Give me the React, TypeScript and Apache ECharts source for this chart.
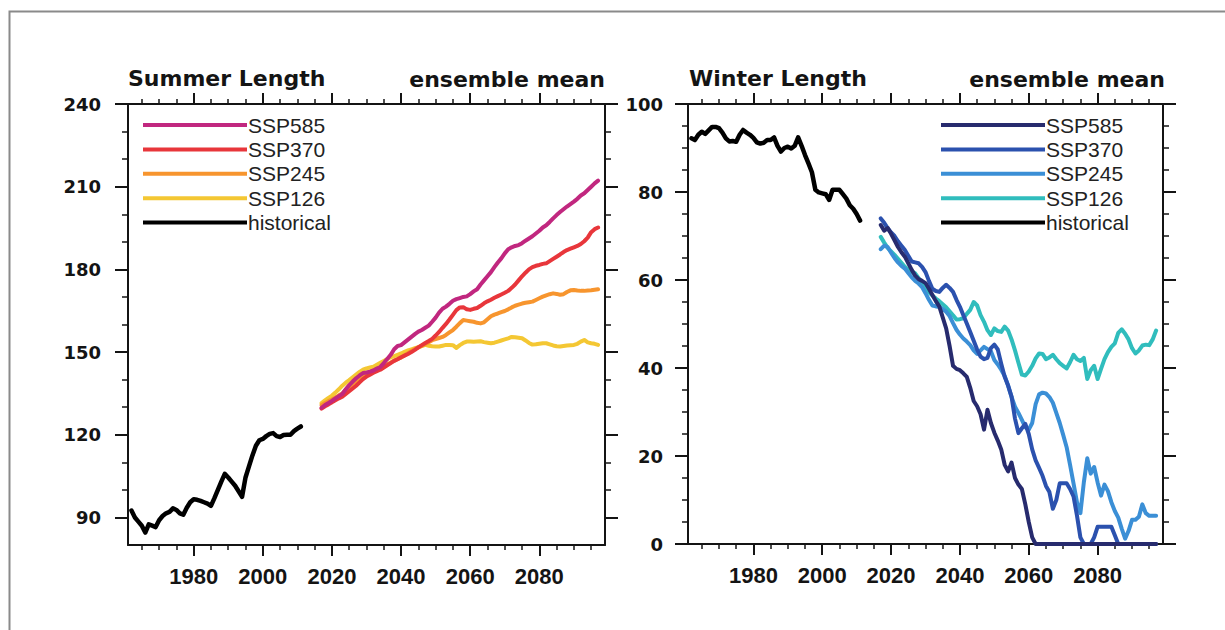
import React, { useEffect, useRef } from "react";
import * as echarts from "echarts";

// ---------- DATA ----------
const range = (a: number, b: number) => { const r: number[] = []; for (let y = a; y <= b; y++) r.push(y); return r; };
const histYears = range(1962, 2011);
const futureYears = range(2017, 2097);

const xMajorTicks = [1980, 2000, 2020, 2040, 2060, 2080];
const xMinorTicks = [1965, 1970, 1975, 1985, 1990, 1995, 2005, 2010, 2015, 2025, 2030, 2035, 2045, 2050, 2055, 2065, 2070, 2075, 2085, 2090, 2095];
const summerMajorTicks = [90, 120, 150, 180, 210, 240];
const summerMinorTicks = [100, 110, 130, 140, 160, 170, 190, 200, 220, 230];
const winterMajorTicks = [0, 20, 40, 60, 80, 100];
const winterMinorTicks = [5, 10, 15, 25, 30, 35, 45, 50, 55, 65, 70, 75, 85, 90, 95];

const scenarios = ["SSP585", "SSP370", "SSP245", "SSP126"];
const summerColors = ["#c1277f", "#e8363b", "#f7952e", "#f4c733"];
const winterColors = ["#272b6e", "#2b51ae", "#3b8fd6", "#30bdbd"];

const summerHist = [
  92.5, 90, 88.5, 87, 84.5, 87.5, 87, 86.5, 89, 90.5,
  91.5, 92, 93.3, 92.7, 91.5, 91, 93.5, 95.5, 96.6, 96.4,
  96, 95.5, 95, 94.2, 97, 100, 103, 105.8, 104.5, 103,
  101.5, 99.5, 97.5, 104.5, 108.5, 112.5, 116, 118, 118.5, 119.5,
  120.3, 120.6, 119.5, 119.2, 119.9, 120, 120, 121.3, 122.2, 123,
];
const summer585 = [
  129.8, 130.8, 131.5, 132.3, 133.2, 134, 134.8, 136.5, 138, 139.3,
  140.5, 141.5, 142.4, 142.6, 142.9, 143.3, 144, 144.6, 146, 147.5,
  149, 151, 152.2, 152.5, 153.5, 154.5, 155.5, 156.5, 157.4, 158,
  158.8, 159.6, 161, 162.5, 164.3, 165.7, 166.5, 167.5, 168.6, 169.2,
  169.6, 170, 170.2, 171, 172, 172.8, 174.5, 176, 177.5, 179,
  180.8, 182.5, 184, 185.8, 187.3, 188, 188.5, 188.8, 189.5, 190.4,
  191.2, 192, 193, 194, 195.2, 196, 197.2, 198.5, 199.7, 200.8,
  201.8, 202.8, 203.7, 204.6, 205.6, 206.8, 207.6, 208.8, 210, 211.2,
  212.2,
];
const summer370 = [
  129.5, 130.3, 131, 131.8, 132.5, 133.2, 133.8, 134.8, 135.8, 136.8,
  137.8, 139, 140.2, 141.1, 141.8, 142.5, 143.1, 143.6, 144.4, 145.2,
  146, 146.8, 147.4, 148.1, 148.7, 149.3, 150, 150.8, 151.7, 152.5,
  153.3, 154, 154.8, 156, 157.3, 158.8, 160.2, 161.8, 163.5, 165.2,
  166.2, 166.3, 165.5, 165.3, 165.7, 166, 166.8, 167.7, 168.4, 169,
  169.7, 170.3, 170.9, 171.5, 172.2, 173.3, 174.5, 176, 177.5, 178.8,
  180, 180.8, 181.3, 181.6, 182, 182.2, 183, 183.8, 184.6, 185.4,
  186.3, 187, 187.5, 188, 188.5, 189.2, 190.2, 191.5, 193.5, 194.6,
  195.2,
];
const summer245 = [
  130.7, 131.5, 132.2, 132.8, 133.5, 134.3, 135, 136.2, 137.3, 138.4,
  139.5, 140.6, 141.5, 142.3, 142.8, 143.4, 143.9, 144.4, 144.9, 145.6,
  146.2, 146.9, 147.5, 148, 148.8, 149.6, 150.4, 151.1, 151.7, 152.3,
  152.9, 153.6, 154.3, 154.7, 155.1, 155.5, 156.2, 157.1, 158, 159.2,
  160.5, 161.6, 161.4, 161.2, 161, 160.6, 160.4, 160.8, 161.9, 163,
  163.6, 164, 164.5, 164.9, 165.5, 166.2, 166.8, 167.2, 167.6, 167.9,
  168.1, 168.3, 168.9, 169.5, 170.1, 170.6, 171, 171.3, 171.1, 170.8,
  171, 171.8, 172.4, 172.5, 172.3, 172.2, 172.2, 172.3, 172.4, 172.6,
  172.8,
];
const summer126 = [
  131.5, 132.5, 133.4, 134.2, 135.3, 136.5, 137.8, 138.9, 139.8, 140.8,
  141.8, 142.8, 143.6, 144.1, 144.4, 144.7, 145.4, 146.1, 146.8, 147.5,
  148.1, 148.5, 149, 149.5, 150.1, 150.6, 151, 151.4, 151.8, 152.2,
  152.6, 152.3, 152.1, 152, 152, 152.3, 152.6, 152.6, 152.5, 151.5,
  152.5, 153.3, 153.8, 153.8, 153.7, 153.8, 153.9, 153.6, 153.4, 153.2,
  153.4, 153.8, 154.2, 154.6, 155, 155.5, 155.4, 155.2, 155, 154.2,
  153.3, 152.7, 152.8, 153, 153.2, 153.2, 152.8, 152.4, 152.1, 152,
  152.2, 152.4, 152.5, 152.6, 153, 153.8, 154.4, 153.5, 153.2, 153,
  152.6,
];

const winterHist = [
  92.2, 91.8, 93, 93.7, 93.2, 94, 94.8, 94.8, 94.5, 93.5,
  92.2, 91.5, 91.6, 91.4, 93, 94.1, 93.5, 93, 92.3, 91.3,
  91, 91.2, 91.8, 91.8, 92.4, 90.5, 89.2, 90, 90.3, 89.9,
  90.5, 92.4, 90.5, 88.4, 86.5, 84.5, 80.5, 79.9, 79.7, 79.5,
  78.2, 80.5, 80.5, 80.5, 79.5, 78.5, 77, 76.2, 75, 73.5,
];
const winter585 = [
  72.5, 71.2, 71.8, 70.5, 69, 67.5, 66.3, 65.3, 63.8, 62.3,
  61, 60.2, 59.8, 59.3, 58, 56.6, 55.2, 54, 51.5, 49,
  45, 40.5, 39.8, 39.5, 38.8, 38, 35.5, 32.5, 31.3, 29.5,
  26, 30.5, 27.5, 25.3, 23.5, 21.5, 18, 16.5, 18.5, 15,
  13.5, 12.5, 9, 5, 1.5, 0, 0, 0, 0, 0,
  0, 0, 0, 0, 0, 0, 0, 0, 0, 0,
  0, 0, 0, 0, 0, 0, 0, 0, 0, 0,
  0, 0, 0, 0, 0, 0, 0, 0, 0, 0,
  0,
];
const winter370 = [
  74, 73, 71.8, 70.8, 70, 68.8, 67.8, 66.8, 65.5, 64.2,
  64, 63.8, 63, 61.8, 59.8, 58, 57.5, 57.3, 58.2, 58.9,
  58.2, 57.3, 55.5, 53.9, 52, 50.1, 48.2, 46.2, 44.2, 42.6,
  42, 42.3, 44.5, 45.3, 44.2, 41, 38, 36, 33.5, 28.5,
  25.2, 26.3, 27.3, 25, 21.5, 19, 17.3, 15.5, 13.2, 11.8,
  8, 10, 13.8, 13.8, 13.8, 12.5, 10.8, 6.5, 1.5, 0,
  0, 0, 1.5, 3.9, 3.9, 3.9, 3.9, 3.9, 2, 0,
  0, 0, 0, 0, 0, 0, 0, 0, 0, 0,
  0,
];
const winter245 = [
  67, 67.8, 67.5, 66.2, 65, 64, 63.2, 62.6, 61.6, 60.6,
  59.8, 59.2, 58.4, 57, 55.5, 54.2, 54, 53.9, 53.4, 52.8,
  51.8, 50.2, 48.7, 47.6, 46.7, 46, 45.2, 44, 43.2, 44,
  44.8, 44.3, 43.8, 41.8, 40.8, 39.6, 38.2, 36, 33.4, 31.2,
  29.8, 28.2, 26.5, 26, 27.5, 31.8, 34, 34.4, 34.2, 33.4,
  32.1, 29.8, 27.5, 24.8, 22, 18, 13.8, 9.5, 7, 14,
  19.5, 16, 17.5, 14, 11, 13.5, 12, 9.5, 7.5, 6,
  3.5, 1.2, 3, 5.5, 5.5, 6.2, 9, 7, 6.4, 6.4,
  6.4,
];
const winter126 = [
  69.8, 68.5, 67.3, 66.5, 65.7, 64.8, 63.9, 63, 62.3, 61.9,
  61.5, 60.4, 59.4, 58.4, 57.2, 56.5, 55.8, 55.2, 54.5, 53.8,
  52.9, 52, 51, 51.1, 51.3, 52.3, 53.2, 55, 54.2, 52,
  50.5, 48.6, 47.5, 49, 48.4, 48.2, 49.4, 48.5, 46.5, 44,
  41.2, 38.5, 38.3, 39.2, 40.5, 42.2, 43.3, 43.2, 42, 42.4,
  43, 42, 41.1, 40.5, 39.9, 41.3, 43, 42, 41.6, 42.3,
  37.5, 39.5, 40.5, 37.5, 39.8, 42, 43.6, 44.8, 45.6, 48,
  48.8, 47.8, 46.5, 44.5, 43.3, 44, 45.1, 45.3, 45.2, 46.5,
  48.5,
];

const summerFuture = [summer585, summer370, summer245, summer126];
const winterFuture = [winter585, winter370, winter245, winter126];

// ---------- HELPERS ----------
const INK = "#141414";
const XLABEL_FONT = "'Liberation Sans', Arial, sans-serif";
const YLABEL_FONT = "'DejaVu Sans', sans-serif";

const pairs = (years: number[], vals: number[]) =>
  vals.map((v, i) => [years[i], v]).filter((p) => p[0] !== undefined);

function xAxis(gridIndex: number, position: string, ticks: number[], len: number, main: boolean, labels: boolean) {
  return {
    type: "value", gridIndex, position, min: 1961, max: 2099,
    axisLine: { show: main, onZero: false, lineStyle: { color: INK, width: 2 } },
    axisTick: { show: true, inside: false, length: len, customValues: ticks, lineStyle: { color: INK, width: main ? 2 : 1.5 } },
    axisLabel: labels
      ? { show: true, customValues: ticks, margin: 20, formatter: (v: number) => String(v), color: INK, fontFamily: XLABEL_FONT, fontWeight: "bold", fontSize: 22 }
      : { show: false },
    splitLine: { show: false },
  };
}
function yAxis(gridIndex: number, position: string, min: number, max: number, ticks: number[], len: number, main: boolean, labels: boolean, margin: number) {
  return {
    type: "value", gridIndex, position, min, max,
    axisLine: { show: main, onZero: false, lineStyle: { color: INK, width: 2 } },
    axisTick: { show: true, inside: false, length: len, customValues: ticks, lineStyle: { color: INK, width: main ? 2 : 1.5 } },
    axisLabel: labels
      ? { show: true, customValues: ticks, margin, formatter: (v: number) => String(v), color: INK, fontFamily: YLABEL_FONT, fontWeight: "bold", fontSize: 18 }
      : { show: false },
    splitLine: { show: false },
  };
}
function lineSeries(name: string, color: string, axisIndex: number, data: number[][], width: number, z: number) {
  return {
    type: "line", name, xAxisIndex: axisIndex, yAxisIndex: axisIndex, data,
    symbol: "none", showSymbol: false, silent: true, z, clip: false,
    lineStyle: { color, width, join: "round", cap: "round" },
    itemStyle: { color },
  };
}
function legendGraphics(x0: number, colors: string[]) {
  const rows = [...scenarios, "historical"];
  const cols = [...colors, "#000000"];
  const els: any[] = [];
  rows.forEach((name, i) => {
    const y = 125 + i * 24.4;
    els.push({ type: "line", shape: { x1: x0, y1: y, x2: x0 + 104, y2: y }, style: { stroke: cols[i], lineWidth: 4 }, silent: true });
    els.push({ type: "text", x: x0 + 105, y, style: { text: name, fill: "#222", font: "21px 'Liberation Sans', Arial, sans-serif", textVerticalAlign: "middle", textAlign: "left" }, silent: true });
  });
  return els;
}

export default function App() {
  const ref = useRef<HTMLDivElement>(null);
  useEffect(() => {
    if (!ref.current) return;
    const chart = echarts.init(ref.current, null, { renderer: "svg" });
    const gL = { left: 128, top: 104, width: 477, height: 441 };
    const gR = { left: 688, top: 104, width: 475, height: 440 };
    const titleStyle = { fontFamily: "'DejaVu Sans', sans-serif", fontWeight: "bold", fontSize: 22, color: INK };

    const series: any[] = [];
    series.push(lineSeries("historical", "#000000", 0, pairs(histYears, summerHist), 4.5, 5));
    for (let k = 3; k >= 0; k--) series.push(lineSeries(scenarios[k], summerColors[k], 0, pairs(futureYears, summerFuture[k]), 4, 6 + (3 - k)));
    series.push(lineSeries("historical", "#000000", 4, pairs(histYears, winterHist), 4.5, 5));
    for (let k = 3; k >= 0; k--) series.push(lineSeries(scenarios[k], winterColors[k], 4, pairs(futureYears, winterFuture[k]), 4, 6 + (3 - k)));

    chart.setOption({
      animation: false,
      backgroundColor: "#ffffff",
      title: [
        { text: "Summer Length", left: 128, top: 67, padding: 0, textStyle: titleStyle },
        { text: "ensemble mean", right: 620, top: 68, padding: 0, textStyle: titleStyle },
        { text: "Winter Length", left: 689, top: 67, padding: 0, textStyle: titleStyle },
        { text: "ensemble mean", right: 60, top: 68, padding: 0, textStyle: titleStyle },
      ],
      grid: [gL, gL, gR, gR].map((g) => ({ ...g, containLabel: false })),
      xAxis: [
        xAxis(0, "bottom", xMajorTicks, 11, true, true),
        xAxis(0, "top", xMajorTicks, 11, true, false),
        xAxis(1, "bottom", xMinorTicks, 5, false, false),
        xAxis(1, "top", xMinorTicks, 5, false, false),
        xAxis(2, "bottom", xMajorTicks, 11, true, true),
        xAxis(2, "top", xMajorTicks, 11, true, false),
        xAxis(3, "bottom", xMinorTicks, 5, false, false),
        xAxis(3, "top", xMinorTicks, 5, false, false),
      ],
      yAxis: [
        yAxis(0, "left", 80, 240, summerMajorTicks, 13, true, true, 27),
        yAxis(0, "right", 80, 240, summerMajorTicks, 13, true, false, 0),
        yAxis(1, "left", 80, 240, summerMinorTicks, 6, false, false, 0),
        yAxis(1, "right", 80, 240, summerMinorTicks, 6, false, false, 0),
        yAxis(2, "left", 0, 100, winterMajorTicks, 13, true, true, 25),
        yAxis(2, "right", 0, 100, winterMajorTicks, 13, true, false, 0),
        yAxis(3, "left", 0, 100, winterMinorTicks, 6, false, false, 0),
        yAxis(3, "right", 0, 100, winterMinorTicks, 6, false, false, 0),
      ],
      series,
      graphic: [
        { type: "rect", shape: { x: 9.5, y: 11.5, width: 1230, height: 640 }, style: { fill: "none", stroke: "#8a8a8a", lineWidth: 2 }, silent: true, z: 0 },
        ...legendGraphics(143, summerColors),
        ...legendGraphics(941, winterColors),
      ],
    });
    return () => chart.dispose();
  }, []);
  return <div ref={ref} style={{ position: "absolute", left: 0, top: 0, width: 1225, height: 630 }} />;
}
